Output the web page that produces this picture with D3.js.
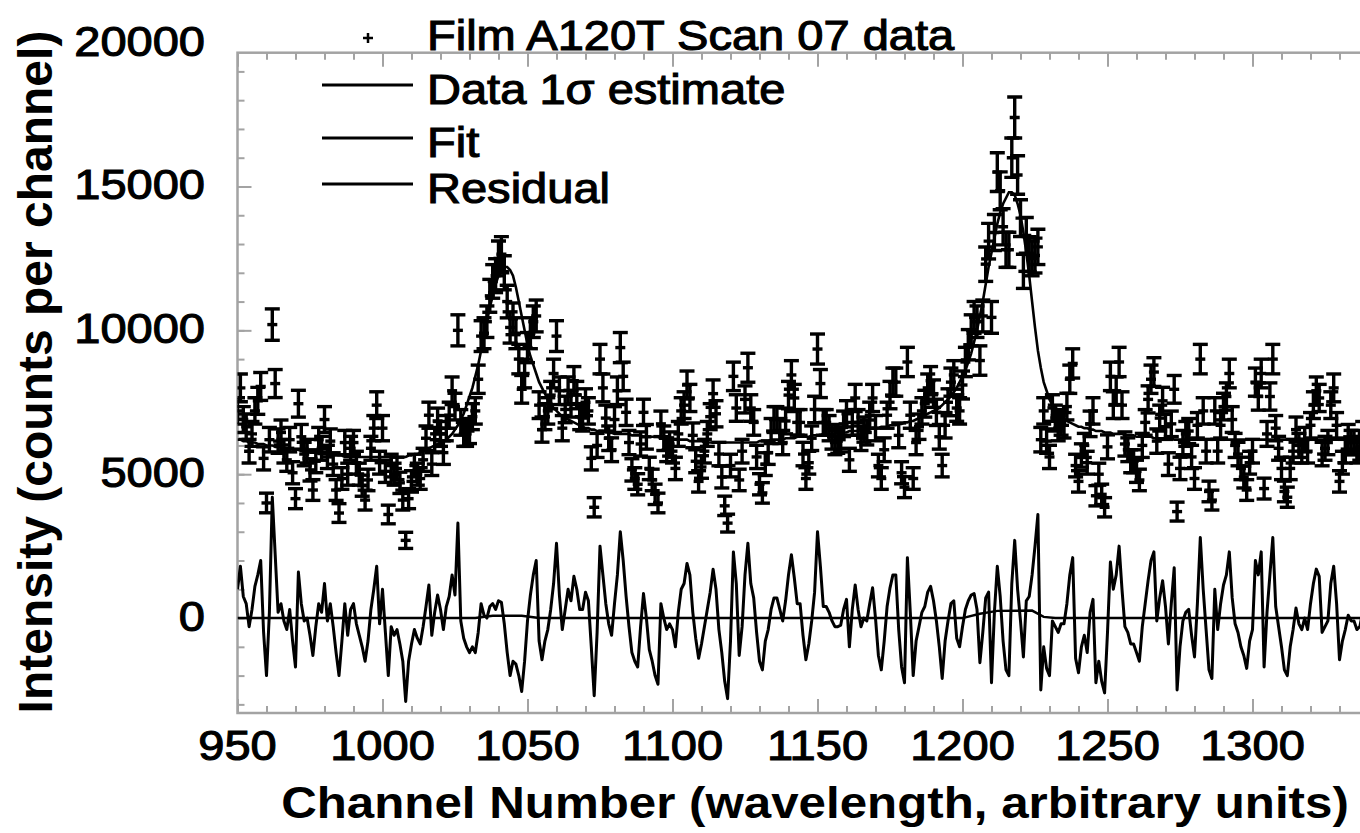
<!DOCTYPE html>
<html>
<head>
<meta charset="utf-8">
<script src="https://cdn.jsdelivr.net/npm/d3@7"></script>
<style>
  body { margin: 0; background: #fff; }
  text { font-family: "Liberation Sans", Arial, sans-serif; fill: #000; }
</style>
</head>
<body>
<div id="chart"></div>
<script>
const firstChannel = 950;

// residual (counts - fit), one value per channel from 950 to 1340
const residual = [
  1000, 1800, 750, 500, -300, 300, 1100, 1500, 2000, -500,
  -2000, 200, 4200, 2200, 200, 500, -100, -400, 300, -800,
  -1700, 1600, 500, -100, 0, -600, -1300, -300, 500, 200,
  1200, -100, 500, -300, -1200, -2000, -800, 500, -600, 300,
  500, -200, -600, -1000, -1500, -800, 300, 1000, 1800, -200,
  1000, -500, -2000, -300, -600, -400, -900, -1500, -2900, -1500,
  -900, -400, -700, -900, -300, 400, 1150, -600, 200, 800,
  300, -400, 400, 750, 1500, 800, 3300, -100, -700, -1000,
  -1200, -1000, -1200, -500, 500, 100, 0, 400, 500, 300,
  600, 550, -200, -1200, -2000, -1500, -1600, -2000, -2550, -1500,
  -100, 800, 1500, 2000, -800, -1450, -800, -400, 300, 1200,
  2600, 800, -400, 300, 1000, 600, 1450, 1000, 300, 300,
  900, 600, -1000, -2700, -500, 2500, 1500, 500, -200, -600,
  500, 1500, 3000, 2000, 750, -300, -1200, -1500, -1700, -300,
  850, 0, -1100, -1500, -2000, -2300, 500, 0, -400, -200,
  -400, -1000, 200, 1000, 1200, 1900, 1500, 200, -700, -1400,
  -900, -300, 300, 900, 1700, 1000, -400, -1200, -2200, -2800,
  -800, 2300, 1200, -1300, -300, 1500, 2600, 1200, 700, -500,
  -1500, -1800, -800, -400, 300, 700, 700, 300, -100, 600,
  1500, 2200, 1400, 500, 500, -600, -1450, -900, -100, 900,
  3000, 1800, 400, 400, 200, -100, -300, -300, -250, 300,
  650, -1000, 300, 1150, 300, -300, 0, -100, 500, 1050,
  0, -1300, -1800, -800, 400, 1050, 1500, 1500, -400, -1700,
  -2250, 2100, 200, -2000, -800, -300, 200, 400, 900, 1100,
  600, -100, -1000, -2100, -800, -100, 500, 600, -700, -1000,
  -300, 300, 600, 800, 850, 300, -1550, -500, 700, 900,
  -2250, 200, 1800, 750, -800, -1800, -2000, 1200, 2700, 1000,
  -100, -1350, 600, 750, 1500, 2500, 3600, -2500, -1000, -1750,
  -2000, -100, -300, -500, -200, -200, 500, 1500, 2100, -1400,
  -1900, -1000, -600, -1200, 200, 650, -2250, -1500, -2200, -2600,
  -500, 1950, 1000, 1500, 2500, 1000, -300, -500, -900, -900,
  -1200, -1500, -300, 500, 1300, 2000, 2300, -100, 700, 1300,
  400, -900, 500, 1750, -2500, -1000, -100, 200, 300, -600,
  -1350, 500, 2800, 1000, -400, -1800, -2100, 1000, -400, 500,
  1150, 1500, 2300, 700, -200, -500, -1000, -1300, -1750, -800,
  -400, 2000, 1500, 2300, -1700, 200, 1500, 2800, 400, -300,
  -1000, -1800, -2000, -1000, -400, 350, -200, -400, 0, -400,
  500, 1200, 1700, 1450, -500, -300, -100, 1200, 1800, 500,
  -1450, -800, -400, 100, -100, -100, -400, -300, 200, -200, 300
];

// fitted model, one value per channel from 950 to 1340
const fit = [
  6200, 6200, 6150, 6150, 6100, 6100, 6100, 6050, 6050, 6050,
  6000, 6000, 6000, 5950, 5950, 5950, 5900, 5900, 5900, 5850,
  5850, 5850, 5800, 5800, 5800, 5750, 5750, 5750, 5700, 5700,
  5700, 5700, 5650, 5650, 5650, 5650, 5650, 5600, 5600, 5600,
  5600, 5600, 5600, 5600, 5600, 5600, 5600, 5600, 5600, 5600,
  5600, 5600, 5600, 5600, 5600, 5600, 5600, 5600, 5600, 5650,
  5650, 5700, 5700, 5750, 5800, 5850, 5900, 5950, 6000, 6050,
  6100, 6150, 6200, 6300, 6400, 6550, 6700, 6900, 7100, 7400,
  7700, 8000, 8400, 8800, 9300, 9800, 10300, 10800, 11200, 11600,
  11900, 12100, 12200, 12200, 12100, 11900, 11500, 11000, 10500, 10000,
  9500, 9100, 8800, 8500, 8200, 8000, 7800, 7600, 7450, 7300,
  7200, 7100, 7000, 6950, 6900, 6850, 6800, 6750, 6700, 6650,
  6600, 6600, 6550, 6550, 6500, 6500, 6500, 6450, 6450, 6450,
  6400, 6400, 6400, 6400, 6400, 6400, 6350, 6350, 6350, 6350,
  6300, 6300, 6300, 6300, 6300, 6300, 6250, 6250, 6250, 6250,
  6200, 6200, 6200, 6200, 6200, 6200, 6150, 6150, 6150, 6150,
  6150, 6100, 6100, 6100, 6100, 6100, 6100, 6100, 6100, 6100,
  6100, 6100, 6100, 6100, 6100, 6100, 6100, 6100, 6100, 6100,
  6150, 6150, 6150, 6150, 6200, 6200, 6200, 6200, 6200, 6250,
  6250, 6250, 6250, 6300, 6300, 6300, 6300, 6300, 6350, 6350,
  6350, 6350, 6400, 6400, 6400, 6400, 6400, 6450, 6450, 6450,
  6450, 6500, 6500, 6500, 6500, 6550, 6550, 6550, 6550, 6600,
  6600, 6600, 6650, 6650, 6650, 6700, 6700, 6700, 6750, 6750,
  6800, 6800, 6850, 6850, 6900, 6950, 7000, 7050, 7100, 7150,
  7200, 7250, 7300, 7400, 7500, 7600, 7700, 7850, 8000, 8200,
  8400, 8600, 8900, 9200, 9600, 10000, 10500, 11000, 11600, 12200,
  12700, 13200, 13700, 14100, 14400, 14600, 14800, 14800, 14700, 14400,
  14000, 13400, 12700, 11900, 11000, 10100, 9300, 8700, 8200, 7900,
  7600, 7400, 7250, 7100, 7000, 6900, 6850, 6800, 6750, 6700,
  6650, 6650, 6600, 6600, 6550, 6550, 6500, 6500, 6500, 6450,
  6450, 6450, 6400, 6400, 6400, 6400, 6350, 6350, 6350, 6350,
  6300, 6300, 6300, 6300, 6300, 6300, 6250, 6250, 6250, 6250,
  6250, 6250, 6250, 6200, 6200, 6200, 6200, 6200, 6200, 6200,
  6200, 6200, 6200, 6200, 6200, 6200, 6200, 6200, 6200, 6200,
  6200, 6200, 6200, 6200, 6200, 6200, 6200, 6200, 6200, 6200,
  6200, 6200, 6200, 6200, 6200, 6200, 6200, 6200, 6200, 6200,
  6200, 6200, 6200, 6200, 6200, 6200, 6200, 6200, 6200, 6200,
  6200, 6200, 6200, 6200, 6200, 6200, 6200, 6200, 6200, 6200,
  6200, 6200, 6200, 6200, 6200, 6200, 6200, 6200, 6200, 6200, 6200
];

// reference line drawn near zero in the residual panel
const zeroLine = [
  [950, 0], [1032, 0], [1038, 80], [1048, 80], [1054, 0], [1200, 0],
  [1206, 150], [1212, 250], [1224, 260], [1228, 40], [1232, 0], [1345, 0]
];

const xTicks = [950, 1000, 1050, 1100, 1150, 1200, 1250, 1300];
const yTicks = [0, 5000, 10000, 15000, 20000];
const legendItems = ["Data 1σ estimate", "Fit", "Residual"];
const dataLabel = "Film A120T Scan 07 data";
const xTitle = "Channel Number (wavelength, arbitrary units)";
const yTitle = "Intensity (counts per channel)";

const channels = fit.map((d, i) => firstChannel + i);
const counts = fit.map((f, i) => f + residual[i]);
const sigmaGain = 5.4; // 1σ estimate grows with sqrt of the counts

const width = 1360, height = 833;
const frame = {left: 237.5, top: 52.7, bottom: 713};

const x = d3.scaleLinear().domain([950, 1345]).range([frame.left, frame.left + 395 * 2.9]);
const y = d3.scaleLinear().domain([-3300, 19650]).range([frame.bottom, frame.top]);

const svg = d3.select("#chart").append("svg")
    .attr("width", width).attr("height", height)
    .attr("viewBox", `0 0 ${width} ${height}`);

svg.append("rect").attr("width", width).attr("height", height).attr("fill", "#fff");

svg.append("clipPath").attr("id", "plot-clip")
    .append("rect")
    .attr("x", frame.left).attr("y", frame.top)
    .attr("width", x.range()[1] - frame.left).attr("height", frame.bottom - frame.top);

// frame and ticks
const axisColor = "#a3a3a3";
svg.append("rect")
    .attr("x", frame.left).attr("y", frame.top)
    .attr("width", x.range()[1] - frame.left).attr("height", frame.bottom - frame.top)
    .attr("fill", "none").attr("stroke", axisColor).attr("stroke-width", 2.5);

function tickAxis(axis, transform) {
    const g = svg.append("g").attr("transform", transform).call(axis);
    g.select(".domain").remove();
    g.selectAll("line").attr("stroke", axisColor).attr("stroke-width", 2);
    g.selectAll("text").remove();
}
const minorX = d3.range(950, 1345, 10);
const minorY = d3.range(-3000, 19001, 1000);
tickAxis(d3.axisBottom(x).tickValues(minorX).tickSize(-7), `translate(0,${frame.bottom})`);
tickAxis(d3.axisBottom(x).tickValues(xTicks).tickSize(-14), `translate(0,${frame.bottom})`);
tickAxis(d3.axisTop(x).tickValues(minorX).tickSize(-7), `translate(0,${frame.top})`);
tickAxis(d3.axisTop(x).tickValues(xTicks).tickSize(-14), `translate(0,${frame.top})`);
tickAxis(d3.axisLeft(y).tickValues(minorY).tickSize(-7), `translate(${frame.left},0)`);
tickAxis(d3.axisLeft(y).tickValues(yTicks.filter(v => v < 19650)).tickSize(-14), `translate(${frame.left},0)`);

// text with a little horizontal stretch, like the source rendering
function label(px, py, str, anchor, size, weight) {
    const t = svg.append("text")
        .attr("transform", `translate(${px},${py}) scale(1.12,1)`)
        .attr("text-anchor", anchor)
        .style("font-size", size + "px")
        .style("font-weight", weight || "normal")
        .text(str);
    if (!weight) t.attr("stroke", "#000").attr("stroke-width", 1.1);
    return t;
}

xTicks.forEach(v => label(x(v), 760, v, "middle", 42));
yTicks.forEach(v => label(205, y(v) + 13, v, "end", 42));

label(815, 818, xTitle, "middle", 44, "bold");
svg.append("text")
    .attr("transform", `translate(52,372) rotate(-90)`)
    .attr("text-anchor", "middle")
    .style("font-size", "48px").style("font-weight", "bold")
    .text(yTitle);

// plot contents
const plot = svg.append("g").attr("clip-path", "url(#plot-clip)");

const line = d3.line().x(d => x(d[0])).y(d => y(d[1]));

plot.append("path").datum(zeroLine)
    .attr("d", line).attr("fill", "none").attr("stroke", "#000").attr("stroke-width", 2.4);

plot.append("path").datum(channels.map((c, i) => [c, residual[i]]))
    .attr("d", line).attr("fill", "none").attr("stroke", "#000")
    .attr("stroke-width", 3).attr("stroke-linejoin", "round");

const bars = plot.append("g").attr("stroke", "#000").attr("stroke-width", 3.4);
channels.forEach((c, i) => {
    const s = sigmaGain * Math.sqrt(counts[i]);
    const cx = x(c), y0 = y(counts[i] - s), y1 = y(counts[i] + s), yc = y(counts[i]);
    bars.append("line").attr("x1", cx).attr("x2", cx).attr("y1", y0).attr("y2", y1);
    bars.append("line").attr("x1", cx - 7.5).attr("x2", cx + 7.5).attr("y1", y0).attr("y2", y0);
    bars.append("line").attr("x1", cx - 7.5).attr("x2", cx + 7.5).attr("y1", y1).attr("y2", y1);
    bars.append("line").attr("x1", cx - 5).attr("x2", cx + 5).attr("y1", yc).attr("y2", yc);
});

plot.append("path").datum(channels.map((c, i) => [c, fit[i]]))
    .attr("d", line).attr("fill", "none").attr("stroke", "#000").attr("stroke-width", 2.6);

// legend
svg.append("path").attr("d", "M363,38h10M368,33v10").attr("stroke", "#000").attr("stroke-width", 2.5);
label(427, 50, dataLabel, "start", 42);
const legendY = [85, 138, 184];
legendItems.forEach((t, i) => {
    svg.append("line").attr("x1", 322).attr("x2", 413)
        .attr("y1", legendY[i]).attr("y2", legendY[i])
        .attr("stroke", "#000").attr("stroke-width", 3);
    label(427, legendY[i] + 19, t, "start", 42);
});
</script>
</body>
</html>
